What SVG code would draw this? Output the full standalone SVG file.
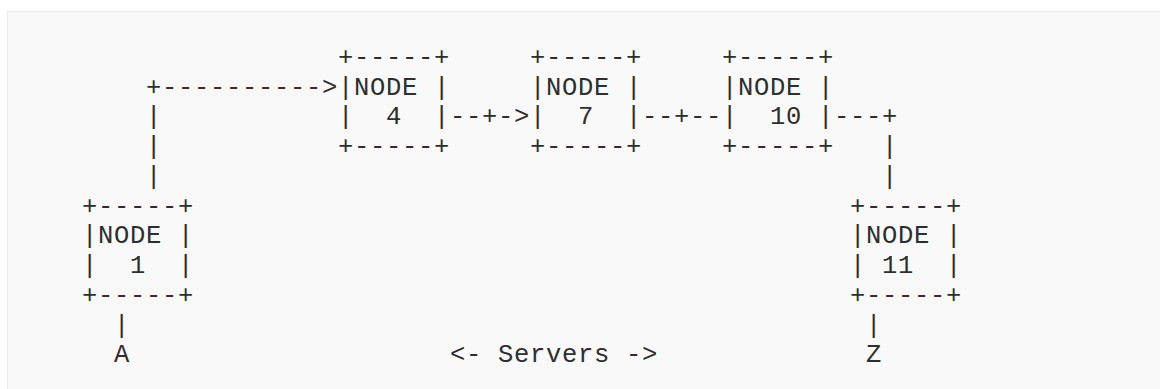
<svg xmlns="http://www.w3.org/2000/svg" width="1160" height="389" viewBox="0 0 1160 389">
<style>
text{font-family:"Liberation Mono","DejaVu Sans Mono",monospace;font-size:25.5px;letter-spacing:0.7px;fill:#2e2e2e;white-space:pre}
</style>
<rect x="0" y="0" width="1160" height="389" fill="#ffffff"/>
<rect x="7.5" y="11.5" width="1160" height="400" fill="#f9f9f9" stroke="#eaeaea" stroke-width="1"/>
<g id="connectors" xml:space="preserve">
<text x="146" y="94.5">+----------&gt;</text>
<text x="146" y="124.2">|</text>
<text x="146" y="154">|</text>
<text x="146" y="183.7">|</text>
<text x="450" y="124.2">--+-&gt;</text>
<text x="642" y="124.2">--+--</text>
<text x="834" y="124.2">---+</text>
<text x="882" y="154">|</text>
<text x="882" y="183.7">|</text>
<text x="114" y="332.5">|</text>
<text x="866" y="332.5">|</text>
</g>
<g id="node4" xml:space="preserve">
<text x="338" y="64.7">+-----+</text>
<text x="338" y="94.5">|NODE |</text>
<text x="338" y="124.2">|  4  |</text>
<text x="338" y="154">+-----+</text>
</g>
<g id="node7" xml:space="preserve">
<text x="530" y="64.7">+-----+</text>
<text x="530" y="94.5">|NODE |</text>
<text x="530" y="124.2">|  7  |</text>
<text x="530" y="154">+-----+</text>
</g>
<g id="node10" xml:space="preserve">
<text x="722" y="64.7">+-----+</text>
<text x="722" y="94.5">|NODE |</text>
<text x="722" y="124.2">|  10 |</text>
<text x="722" y="154">+-----+</text>
</g>
<g id="node1" xml:space="preserve">
<text x="82" y="213.5">+-----+</text>
<text x="82" y="243.3">|NODE |</text>
<text x="82" y="273">|  1  |</text>
<text x="82" y="302.8">+-----+</text>
</g>
<g id="node11" xml:space="preserve">
<text x="850" y="213.5">+-----+</text>
<text x="850" y="243.3">|NODE |</text>
<text x="850" y="273">| 11  |</text>
<text x="850" y="302.8">+-----+</text>
</g>
<g id="labels" xml:space="preserve">
<text x="114" y="362.3">A</text>
<text x="450" y="362.3">&lt;- Servers -&gt;</text>
<text x="866" y="362.3">Z</text>
</g>
</svg>
